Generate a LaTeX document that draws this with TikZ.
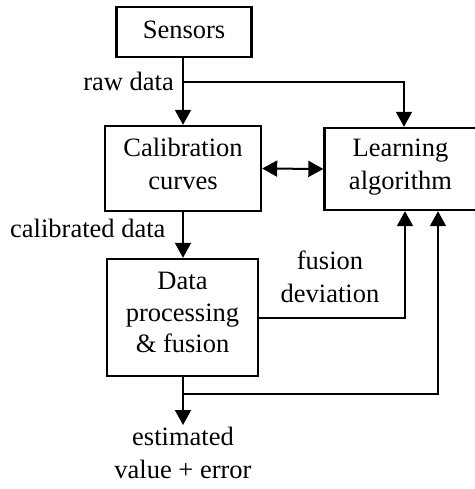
\documentclass[tikz,border=0pt]{standalone}
\usepackage{fontspec}
\setmainfont{Liberation Serif}
\usetikzlibrary{arrows.meta}
\begin{document}
\begin{tikzpicture}[x=1pt,y=-1pt,
  every node/.style={font=\fontsize{26.5}{33}\selectfont, inner sep=0pt,
    execute at begin node=\strut, execute at end node=\strut},
  block/.style={draw, line width=2.4pt, align=center},
  wire/.style={line width=2pt},
  tip/.tip={Triangle[length=15pt,width=16pt]},
  arr/.style={wire, -tip},
  darr/.style={wire, tip-tip}]
\useasboundingbox (0,0) rectangle (474,489);

% blocks
\node[block, minimum width=135pt, minimum height=50pt] (sensors) at (184,32) {Sensors};
\node[block, minimum width=156pt, minimum height=85pt] (calib) at (183,168.5) {Calibration\\curves};
\node[block, minimum width=152pt, minimum height=82pt] (learn) at (400.5,169) {Learning\\algorithm};
\node[block, minimum width=151pt, minimum height=117pt, font=\fontsize{26.5}{31.5}\selectfont] (proc) at (182.5,317.5) {Data\\processing\\\& fusion};

% junctions and free ends
\coordinate (rawsplit) at (183,82);
\coordinate (outsplit) at (183,394);
\coordinate (outend) at (183,425);

% raw data paths
\draw[wire] (sensors.south -| calib.north) -- (rawsplit);
\draw[arr] (rawsplit) -- (calib.north);
\draw[arr] (rawsplit) -| ([xshift=3.5pt]learn.north);

% calibration <-> learning
\draw[darr] (calib.east) -- (learn.west);

% calibrated data
\draw[arr] (calib.south) -- (proc.north -| calib.south);

% fusion deviation feedback
\draw[arr] (proc.east) -| ([xshift=4.5pt]learn.south);

% output and error feedback
\draw[wire] (proc.south -| outsplit) -- (outsplit);
\draw[arr] (outsplit) -- (outend);
\draw[arr] (outsplit) -| ([xshift=37.5pt]learn.south);

% labels
\node[anchor=base east] (lraw) at (174,91) {raw data};
\node[anchor=base west] (lcal) at (10,237) {calibrated data};
\node[align=center] (ldev) at (330,282) {fusion\\deviation};
\node[align=center] (lout) at (183,457.5) {estimated\\value + error};
\end{tikzpicture}
\end{document}
